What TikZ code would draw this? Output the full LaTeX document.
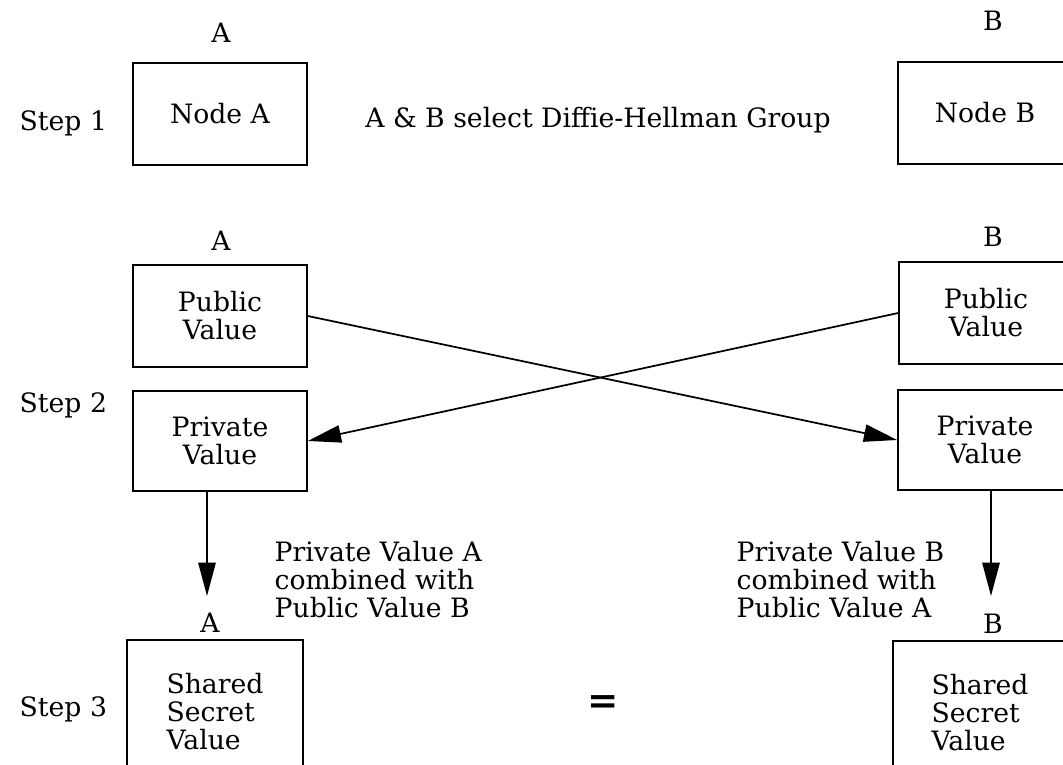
\documentclass[tikz,border=0pt]{standalone}
\usepackage{fontspec}
\setmainfont{DejaVu Serif}
\usetikzlibrary{arrows.meta}

\begin{document}
\begin{tikzpicture}[x=0.75pt, y=-0.75pt,
	every node/.style={font=\fontsize{20}{21}\selectfont},
	box/.style={draw=black, line width=1.2pt, minimum width=130.5pt, minimum height=76.5pt, align=center, inner sep=0pt},
	lbl/.style={anchor=base},
	arr/.style={-{Triangle[length=25pt, width=13pt]}, line width=1.3pt}]
	
	\useasboundingbox (0, 0) rectangle (1063, 764);
	
	% step 1
	\node[lbl, anchor=base west] (s1) at (15, 130) {Step 1};
	\node[lbl] (la1) at (221, 42) {A};
	\node[lbl] (lb1) at (993, 30) {B};
	\node[box] (nodeA) at (220, 114) {Node A};
	\node[box] (nodeB) at (985, 113) {Node B};
	\node[lbl] (grp) at (598, 127) {A \& B select Diffie-Hellman Group};
	
	% step 2
	\node[lbl, anchor=base west] (s2) at (15, 412) {Step 2};
	\node[lbl] (la2) at (221, 250) {A};
	\node[lbl] (lb2) at (993, 246) {B};
	\node[box] (pubA) at (220, 316) {Public\\Value};
	\node[box, minimum height=75pt] (privA) at (220, 441) {Private\\Value};
	\node[box] (pubB) at (986, 313) {Public\\Value};
	\node[box, minimum height=75pt] (privB) at (985, 440) {Private\\Value};
	
	\path[arr] (pubA.east) edge (privB.west);
	\path[arr] (pubB.west) edge (privA.east);
	
	\node[lbl, anchor=base west, align=left] (cmbA) at (270, 617) {Private Value A\\combined with\\Public Value B};
	\node[lbl, anchor=base west, align=left] (cmbB) at (732, 617) {Private Value B\\combined with\\Public Value A};
	
	\coordinate (tipA) at (207, 596);
	\coordinate (tipB) at (991, 596);
	\path[arr] (privA.south -| tipA) edge (tipA);
	\path[arr] (privB.south -| tipB) edge (tipB);
	
	% step 3
	\node[lbl, anchor=base west] (s3) at (15, 716) {Step 3};
	\node[lbl] (la3) at (210, 632) {A};
	\node[lbl] (lb3) at (993, 633) {B};
	\node[box, minimum width=132pt, minimum height=108pt, align=left] (secA) at (215, 712) {Shared\\Secret\\Value};
	\node[box, minimum width=130.5pt, minimum height=108pt, align=left] (secB) at (980, 713) {Shared\\Secret\\Value};
	\node[font=\fontsize{28}{28}\bfseries\selectfont] (eq) at (603, 705) {=};

\end{tikzpicture}
\end{document}
